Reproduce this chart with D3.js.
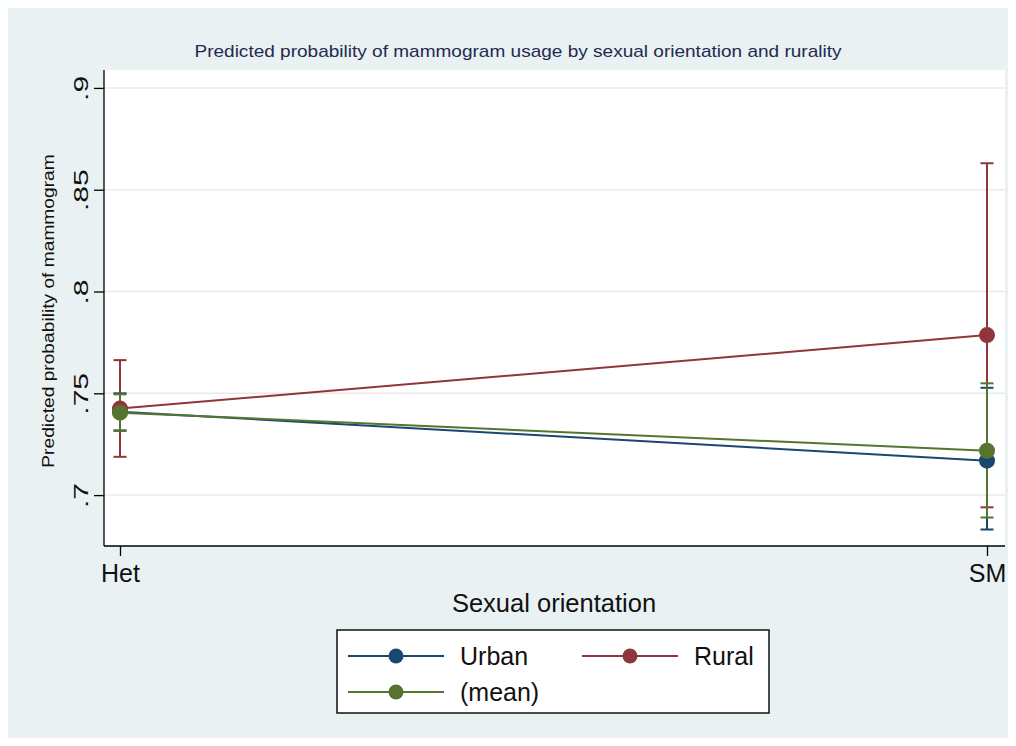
<!DOCTYPE html>
<html><head><meta charset="utf-8">
<script src="https://cdn.jsdelivr.net/npm/d3@7"></script>
<style>body{margin:0;background:#fff}svg{display:block}text{font-family:"Liberation Sans",Arial,sans-serif}</style>
</head><body>
<svg id="c" width="1016" height="746"></svg>
<script>
const categories = ["Het", "SM"];
const seriesNames = ["Urban", "Rural", "(mean)"];
const seriesColors = ["#1a476f", "#90353b", "#55752f"];
const urbanValues = [0.741, 0.7169];
const urbanLower = [0.7318, 0.6831];
const urbanUpper = [0.7500, 0.7527];
const ruralValues = [0.7425, 0.7786];
const ruralLower = [0.7188, 0.6940];
const ruralUpper = [0.7663, 0.8630];
const meanValues = [0.7405, 0.7218];
const meanLower = [0.7315, 0.6890];
const meanUpper = [0.7495, 0.7549];
const yTicks = [0.7, 0.75, 0.8, 0.85, 0.9];
const yTickLabels = [".7", ".75", ".8", ".85", ".9"];

const series = [
  {name: seriesNames[0], color: seriesColors[0], v: urbanValues, lo: urbanLower, hi: urbanUpper},
  {name: seriesNames[1], color: seriesColors[1], v: ruralValues, lo: ruralLower, hi: ruralUpper},
  {name: seriesNames[2], color: seriesColors[2], v: meanValues, lo: meanLower, hi: meanUpper}
];

const svg = d3.select("#c");
svg.append("rect").attr("x", 8).attr("y", 8).attr("width", 1000).attr("height", 730).attr("fill", "#eaf1f3");

const L = 104, R = 1005, T = 70, B = 546;
svg.append("rect").attr("x", L).attr("y", T).attr("width", R - L).attr("height", B - T).attr("fill", "#fff");

const x = d3.scalePoint().domain(categories).range([120, 987]);
const y = d3.scaleLinear().domain([0.675, 0.9088]).range([B, T]);

// grid
svg.append("g").selectAll("line").data(yTicks).join("line")
  .attr("x1", L).attr("x2", R).attr("y1", d => y(d)).attr("y2", d => y(d))
  .attr("stroke", "#eaeaea").attr("stroke-width", 1.5);

// y axis
const yAxis = svg.append("g").attr("transform", `translate(${L},0)`)
  .call(d3.axisLeft(y).tickValues(yTicks).tickFormat((d, i) => yTickLabels[i]).tickSize(10).tickPadding(10));
yAxis.select(".domain").attr("d", `M0,${T}V${B}`).attr("stroke", "#000").attr("stroke-width", 1.3);
yAxis.selectAll(".tick line").attr("stroke", "#000").attr("stroke-width", 1.3);
yAxis.selectAll(".tick text")
  .attr("font-size", 20).attr("fill", "#111")
  .attr("x", null).attr("dy", 0).attr("text-anchor", "middle")
  .attr("transform", "translate(-16,0) rotate(-90) scale(1.5,1)");

// x axis
const xAxis = svg.append("g").attr("transform", `translate(0,${B})`)
  .call(d3.axisBottom(x).tickSize(10).tickPadding(8));
xAxis.select(".domain").attr("d", `M${L},0H${R}`).attr("stroke", "#000").attr("stroke-width", 1.3);
xAxis.selectAll(".tick line").attr("stroke", "#000").attr("stroke-width", 1.3);
xAxis.selectAll(".tick text").attr("font-size", 25).attr("fill", "#111");

// titles
svg.append("text").attr("x", 518).attr("y", 57).attr("text-anchor", "middle")
  .attr("font-size", 17).attr("fill", "#1d2b4f")
  .attr("transform", "translate(518,0) scale(1.12,1) translate(-518,0)")
  .text("Predicted probability of mammogram usage by sexual orientation and rurality");
svg.append("text").attr("transform", `translate(54,311) rotate(-90) scale(1.2,1)`).attr("text-anchor", "middle")
  .attr("font-size", 16).attr("fill", "#111").text("Predicted probability of mammogram");
svg.append("text").attr("x", 554).attr("y", 612).attr("text-anchor", "middle")
  .attr("font-size", 25.5).attr("fill", "#111").text("Sexual orientation");

// error bars
const cap = 6.5;
series.forEach(s => {
  const g = svg.append("g");
  categories.forEach((c, i) => {
    const cx = x(c);
    g.append("line").attr("x1", cx).attr("x2", cx).attr("y1", y(s.lo[i])).attr("y2", y(s.hi[i]))
      .attr("stroke", s.color).attr("stroke-width", 2);
    [s.lo[i], s.hi[i]].forEach(v => {
      g.append("line").attr("x1", cx - cap).attr("x2", cx + cap).attr("y1", y(v)).attr("y2", y(v))
        .attr("stroke", s.color).attr("stroke-width", 2);
    });
  });
});

// lines + markers
const line = d3.line().x((d, i) => x(categories[i])).y(d => y(d));
series.forEach(s => {
  svg.append("path").attr("d", line(s.v)).attr("fill", "none").attr("stroke", s.color).attr("stroke-width", 2);
  svg.append("g").selectAll("circle").data(s.v).join("circle")
    .attr("cx", (d, i) => x(categories[i])).attr("cy", d => y(d)).attr("r", 8).attr("fill", s.color);
});

// legend
const lg = svg.append("g");
lg.append("rect").attr("x", 337).attr("y", 630).attr("width", 432).attr("height", 83)
  .attr("fill", "#fff").attr("stroke", "#111").attr("stroke-width", 1.5);
const legendPos = [[348, 656], [582, 656], [348, 692]];
series.forEach((s, i) => {
  const [lx, ly] = legendPos[i];
  lg.append("line").attr("x1", lx).attr("x2", lx + 96).attr("y1", ly).attr("y2", ly)
    .attr("stroke", s.color).attr("stroke-width", 2);
  lg.append("circle").attr("cx", lx + 48).attr("cy", ly).attr("r", 7.5).attr("fill", s.color);
  lg.append("text").attr("x", lx + 112).attr("y", ly).attr("dy", "0.36em")
    .attr("font-size", 25).attr("fill", "#111").text(s.name);
});
</script>
</body></html>
